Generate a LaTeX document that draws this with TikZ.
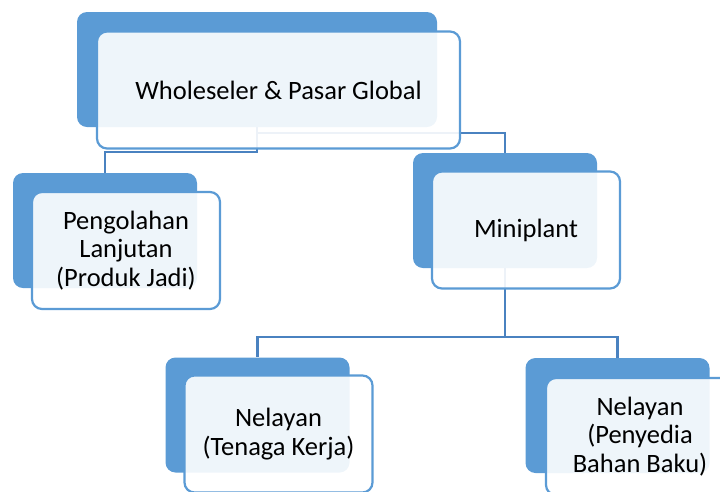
\documentclass[tikz,border=0pt]{standalone}
\usepackage{fontspec}
\setmainfont{Carlito}
\definecolor{accblue}{HTML}{5B9BD5}
\definecolor{linkblue}{HTML}{4A82C0}
\begin{document}
\begin{tikzpicture}[x=1pt,y=-1pt,
  backbox/.style={fill=accblue,draw=none,rounded corners=10pt,inner sep=0pt,
    minimum width=184pt,minimum height=115pt},
  frontbox/.style={draw=accblue,line width=2.2pt,fill=white,fill opacity=0.9,text opacity=1,
    rounded corners=10pt,inner sep=0pt,minimum width=188pt,minimum height=117pt,
    align=center,font=\fontsize{26.5}{28.5}\selectfont,text=black},
  link/.style={draw=linkblue,line width=2.2pt}]
\useasboundingbox (0,0) rectangle (720,491);
\clip (0,0) rectangle (720,491);
% back boxes
\node[backbox,minimum width=360pt] (topb) at (257,69.5) {};
\node[backbox] (pengb) at (105,230.5) {};
\node[backbox] (minib) at (505,210.5) {};
\node[backbox] (nela) at (257.5,415) {};
\node[backbox] (nelb) at (617.5,415.5) {};
% connectors
\draw[link] (topb.south) -- ++(0,25) -| (pengb.north);
\draw[link] (topb.south) -- ++(0,6) -| (minib.north);
\draw[link] (minib.south) -- ++(0,69) -| (nela.north);
\draw[link] (minib.south) -- ++(0,69) -| (nelb.north);
% front boxes
\node[frontbox,minimum width=363pt] (topf) at (278.5,90) {Wholeseler \& Pasar Global};
\node[frontbox] (pengf) at (126,250.5) {Pengolahan\\Lanjutan\\(Produk Jadi)};
\node[frontbox] (minif) at (526,230) {Miniplant};
\node[frontbox] (nelaf) at (278.5,434) {Nelayan\\(Tenaga Kerja)};
\node[frontbox] (nelbf) at (640,436.5) {Nelayan\\(Penyedia\\Bahan Baku)};
\end{tikzpicture}
\end{document}
